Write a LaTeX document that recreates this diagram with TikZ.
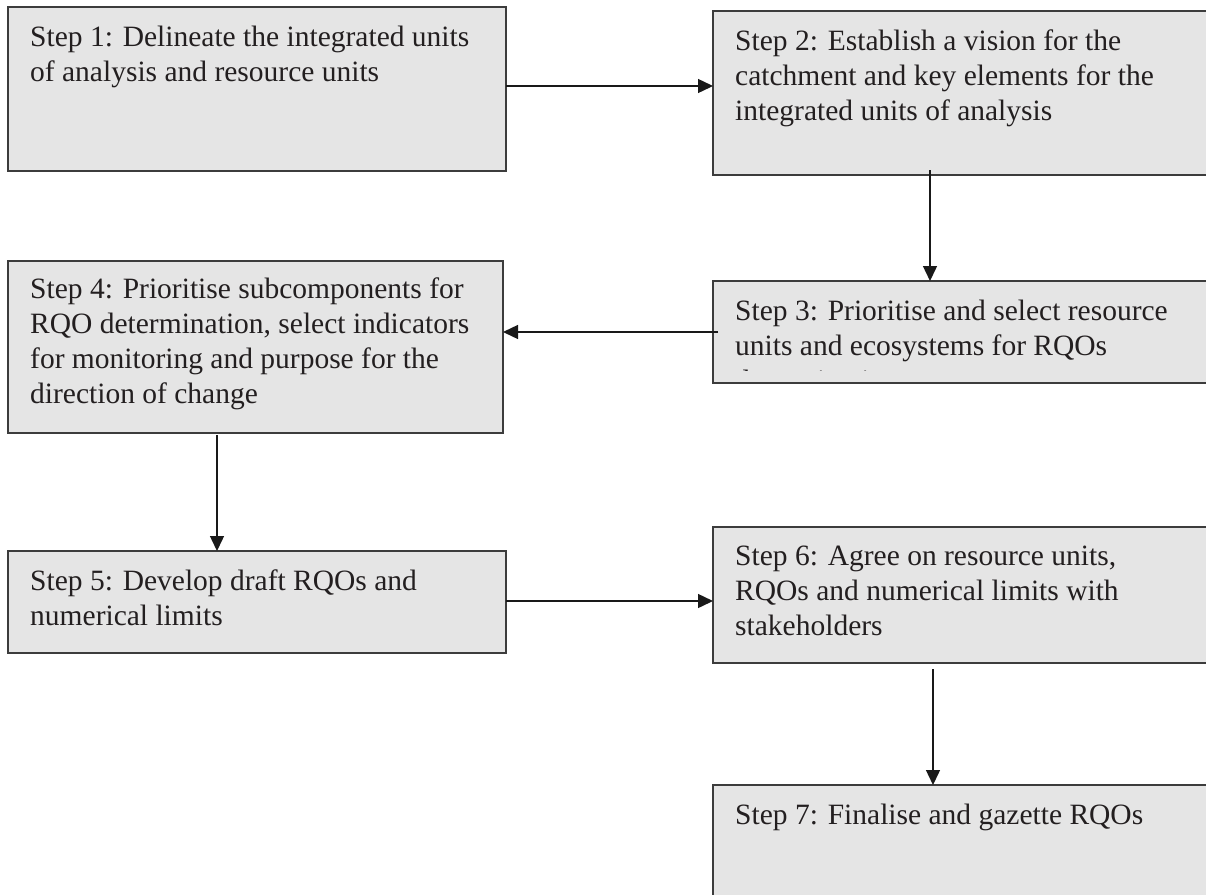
\documentclass[tikz,border=0pt]{standalone}
\usepackage{fontspec}
\setmainfont{Liberation Serif}
\usetikzlibrary{arrows.meta}
\definecolor{boxfill}{HTML}{E5E5E5}
\definecolor{boxline}{HTML}{3C3C3C}
\definecolor{textcol}{HTML}{231F20}
\begin{document}
\begin{tikzpicture}[x=1pt,y=-1pt,
  stepbox/.style={draw=boxline, fill=boxfill, line width=1.8pt, rectangle,
    anchor=north west, inner sep=0pt, outer sep=0pt},
  steptext/.style={anchor=north west, inner sep=0pt, align=left,
    font=\fontsize{29.5}{35}\selectfont, text=textcol},
  flow/.style={draw=black!90, line width=1.4pt,
    -{Triangle[length=15pt,width=14pt]}}]
\useasboundingbox (0,0) rectangle (1206,894);
\clip (0,0) rectangle (1206,894);

% step boxes
\node[stepbox, minimum width=498pt, minimum height=164pt] (b1) at (8,7) {};
\node[stepbox, minimum width=500pt, minimum height=164pt] (b2) at (713,11) {};
\node[stepbox, minimum width=500pt, minimum height=102pt] (b3) at (713,281) {};
\node[stepbox, minimum width=495pt, minimum height=172pt] (b4) at (8,261) {};
\node[stepbox, minimum width=498pt, minimum height=102pt] (b5) at (8,551) {};
\node[stepbox, minimum width=500pt, minimum height=136pt] (b6) at (713,527) {};
\node[stepbox, minimum width=500pt, minimum height=150pt] (b7) at (713,785) {};

% box texts
\node[steptext] (t1) at ([shift={(22,19)}]b1.north west)
  {Step 1: Delineate the integrated units\\of analysis and resource units};
\node[steptext] (t2) at ([shift={(22,19)}]b2.north west)
  {Step 2: Establish a vision for the\\catchment and key elements for the\\integrated units of analysis};
\begin{scope}
  % the third line of step 3 runs past the text area and is cut off
  \clip (b3.north west) rectangle ([shift={(0,-13)}]b3.south east);
  \node[steptext] (t3) at ([shift={(22,19)}]b3.north west)
    {Step 3: Prioritise and select resource\\units and ecosystems for RQOs\\determination};
\end{scope}
\node[steptext] (t4) at ([shift={(22,17)}]b4.north west)
  {Step 4: Prioritise subcomponents for\\RQO determination, select indicators\\for monitoring and purpose for the\\direction of change};
\node[steptext] (t5) at ([shift={(22,19)}]b5.north west)
  {Step 5: Develop draft RQOs and\\numerical limits};
\node[steptext] (t6) at ([shift={(22,19)}]b6.north west)
  {Step 6: Agree on resource units,\\RQOs and numerical limits with\\stakeholders};
\node[steptext] (t7) at ([shift={(22,19)}]b7.north west)
  {Step 7: Finalise and gazette RQOs};

% connectors
\draw[flow] ([shift={(0,79)}]b1.north east) -- ([shift={(0,75)}]b2.north west);
\draw[flow] ([shift={(217,-5)}]b2.south west) -- ([shift={(217,0)}]b3.north west);
\draw[flow] ([shift={(5,51)}]b3.north west) -- ([shift={(0,71)}]b4.north east);
\draw[flow] ([shift={(209,2)}]b4.south west) -- ([shift={(209,0)}]b5.north west);
\draw[flow] ([shift={(0,50)}]b5.north east) -- ([shift={(0,74)}]b6.north west);
\draw[flow] ([shift={(220,6)}]b6.south west) -- ([shift={(220,0)}]b7.north west);
\end{tikzpicture}
\end{document}
